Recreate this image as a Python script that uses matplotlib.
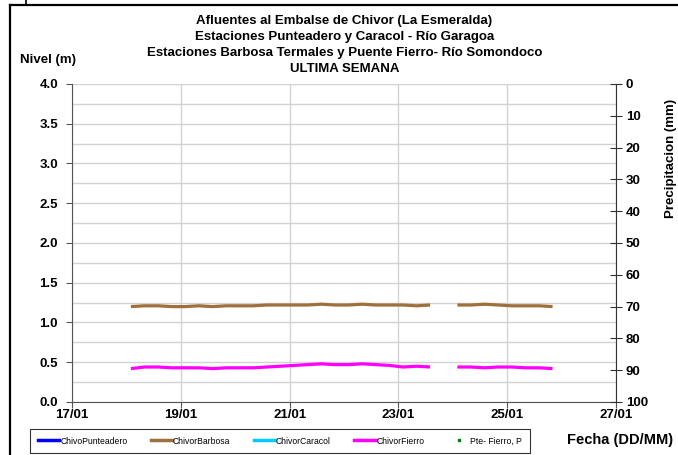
import matplotlib
matplotlib.use('Agg')
import matplotlib.pyplot as plt
import matplotlib.dates as mdates
from matplotlib.lines import Line2D
import pandas as pd

plt.rcParams['font.family'] = ['Liberation Sans', 'DejaVu Sans']

# Readings every 6 hours (level in m)
times_a = pd.date_range('2024-01-18 02:00', '2024-01-23 14:00', freq='6h')
times_b = pd.date_range('2024-01-24 02:00', '2024-01-25 20:00', freq='6h')

barbosa_a = [1.20, 1.21, 1.21, 1.20,
             1.20, 1.21, 1.20, 1.21,
             1.21, 1.21, 1.22, 1.22,
             1.22, 1.22, 1.23, 1.22,
             1.22, 1.23, 1.22, 1.22,
             1.22, 1.21, 1.22]
barbosa_b = [1.22, 1.22, 1.23, 1.22, 1.21, 1.21, 1.21, 1.20]

fierro_a = [0.42, 0.44, 0.44, 0.43,
            0.43, 0.43, 0.42, 0.43,
            0.43, 0.43, 0.44, 0.45,
            0.46, 0.47, 0.48, 0.47,
            0.47, 0.48, 0.47, 0.46,
            0.44, 0.45, 0.44]
fierro_b = [0.44, 0.44, 0.43, 0.44, 0.44, 0.43, 0.43, 0.42]

# stations without data this week
punteadero = []
caracol = []
precip = []

x_start = pd.Timestamp('2024-01-17')
x_end = pd.Timestamp('2024-01-27')

fig = plt.figure(figsize=(6.78, 4.55), dpi=100)
ax = fig.add_axes([0.1062, 0.1165, 0.8024, 0.6989])

c_brown = '#A0703C'
c_mag = '#FF00FF'
lw = 2.3

ax.plot(times_a, barbosa_a, color=c_brown, lw=lw, solid_capstyle='butt')
ax.plot(times_b, barbosa_b, color=c_brown, lw=lw, solid_capstyle='butt')
ax.plot(times_a, fierro_a, color=c_mag, lw=lw, solid_capstyle='butt')
ax.plot(times_b, fierro_b, color=c_mag, lw=lw, solid_capstyle='butt')
ax.plot(punteadero, punteadero, color='#0000FF', lw=lw)
ax.plot(caracol, caracol, color='#00CCFF', lw=lw)

ax.set_xlim(x_start, x_end)
ax.set_ylim(0, 4)
ax.set_yticks([0, 0.5, 1.0, 1.5, 2.0, 2.5, 3.0, 3.5, 4.0])
ax.set_yticks([0.25, 0.75, 1.25, 1.75, 2.25, 2.75, 3.25, 3.75], minor=True)
ax.yaxis.set_major_formatter(matplotlib.ticker.FormatStrFormatter('%.1f'))
ax.xaxis.set_major_locator(mdates.DayLocator(interval=2))
ax.xaxis.set_major_formatter(mdates.DateFormatter('%d/%m'))

ax.grid(True, which='both', axis='y', color='#D2D2D2', lw=1)
ax.grid(True, which='major', axis='x', color='#D2D2D2', lw=1)
ax.set_axisbelow(True)
ax.tick_params(axis='y', which='minor', length=0)
ax.tick_params(axis='both', which='major', direction='out', length=4,
               color='#555555', labelsize=9.5)
ax.tick_params(axis='y', pad=6)
ax.tick_params(axis='x', pad=1)
for lab in ax.get_xticklabels() + ax.get_yticklabels():
    lab.set_fontweight('bold')
ax.spines['top'].set_visible(False)
ax.spines['right'].set_visible(False)
ax.spines['left'].set_color('#555555')
ax.spines['bottom'].set_color('#555555')

# precipitation axis (inverted)
ax2 = ax.twinx()
ax2.plot([x_start] * len(precip), precip, 's', color='#008000', ms=2)
ax2.set_ylim(100, 0)
ax2.set_yticks(range(0, 101, 10))
ax2.tick_params(axis='y', direction='inout', length=8, color='#333333',
                labelsize=9.5, pad=3)
for lab in ax2.get_yticklabels():
    lab.set_fontweight('bold')
for s in ['top', 'left', 'bottom']:
    ax2.spines[s].set_visible(False)
ax2.spines['right'].set_color('#333333')
ax2.set_ylabel('Precipitacion (mm)', fontsize=9.5, fontweight='bold')
ax2.yaxis.set_label_coords(1.09, 0.765)

# titles and labels
titles = ['Afluentes al Embalse de Chivor (La Esmeralda)',
          'Estaciones Punteadero y Caracol - Río Garagoa',
          'Estaciones Barbosa Termales y Puente Fierro- Río Somondoco',
          'ULTIMA SEMANA']
for i, t in enumerate(titles):
    fig.text(0.508, 1 - (21 + 16 * i) / 455, t, ha='center', va='center',
             fontsize=9.5, fontweight='bold')
fig.text(20 / 678, 1 - 60 / 455, 'Nivel (m)', ha='left', va='center',
         fontsize=9.5, fontweight='bold')
fig.text(673 / 678, 1 - 440 / 455, 'Fecha (DD/MM)', ha='right', va='center',
         fontsize=10.5, fontweight='bold')

# legend
handles = [Line2D([], [], color='#0000FF', lw=2.5),
           Line2D([], [], color=c_brown, lw=2.5),
           Line2D([], [], color='#00CCFF', lw=2.5),
           Line2D([], [], color=c_mag, lw=2.5),
           Line2D([], [], color='#008000', marker='s', ms=1.5, ls='none')]
labels = ['ChivoPunteadero', 'ChivorBarbosa', 'ChivorCaracol', 'ChivorFierro',
          'Pte- Fierro, P']
leg = fig.legend(handles, labels, loc='center', ncol=5,
                 bbox_to_anchor=(280 / 678, 1 - 441 / 455),
                 fontsize=6.2, frameon=True, fancybox=False, edgecolor='black',
                 handlelength=2.5, handletextpad=0.1, columnspacing=2.7,
                 borderpad=0.9)
leg.get_frame().set_linewidth(0.8)

# outer frame
fig.add_artist(Line2D([10 / 678, 10 / 678], [0, 1 - 4.5 / 455], color='black', lw=1.6))
fig.add_artist(Line2D([10 / 678, 1], [1 - 4.5 / 455, 1 - 4.5 / 455], color='black', lw=1.6))
fig.add_artist(Line2D([26 / 678, 26 / 678], [1 - 4.5 / 455, 1], color='black', lw=1.2))

fig.savefig('out.png', dpi=100)
